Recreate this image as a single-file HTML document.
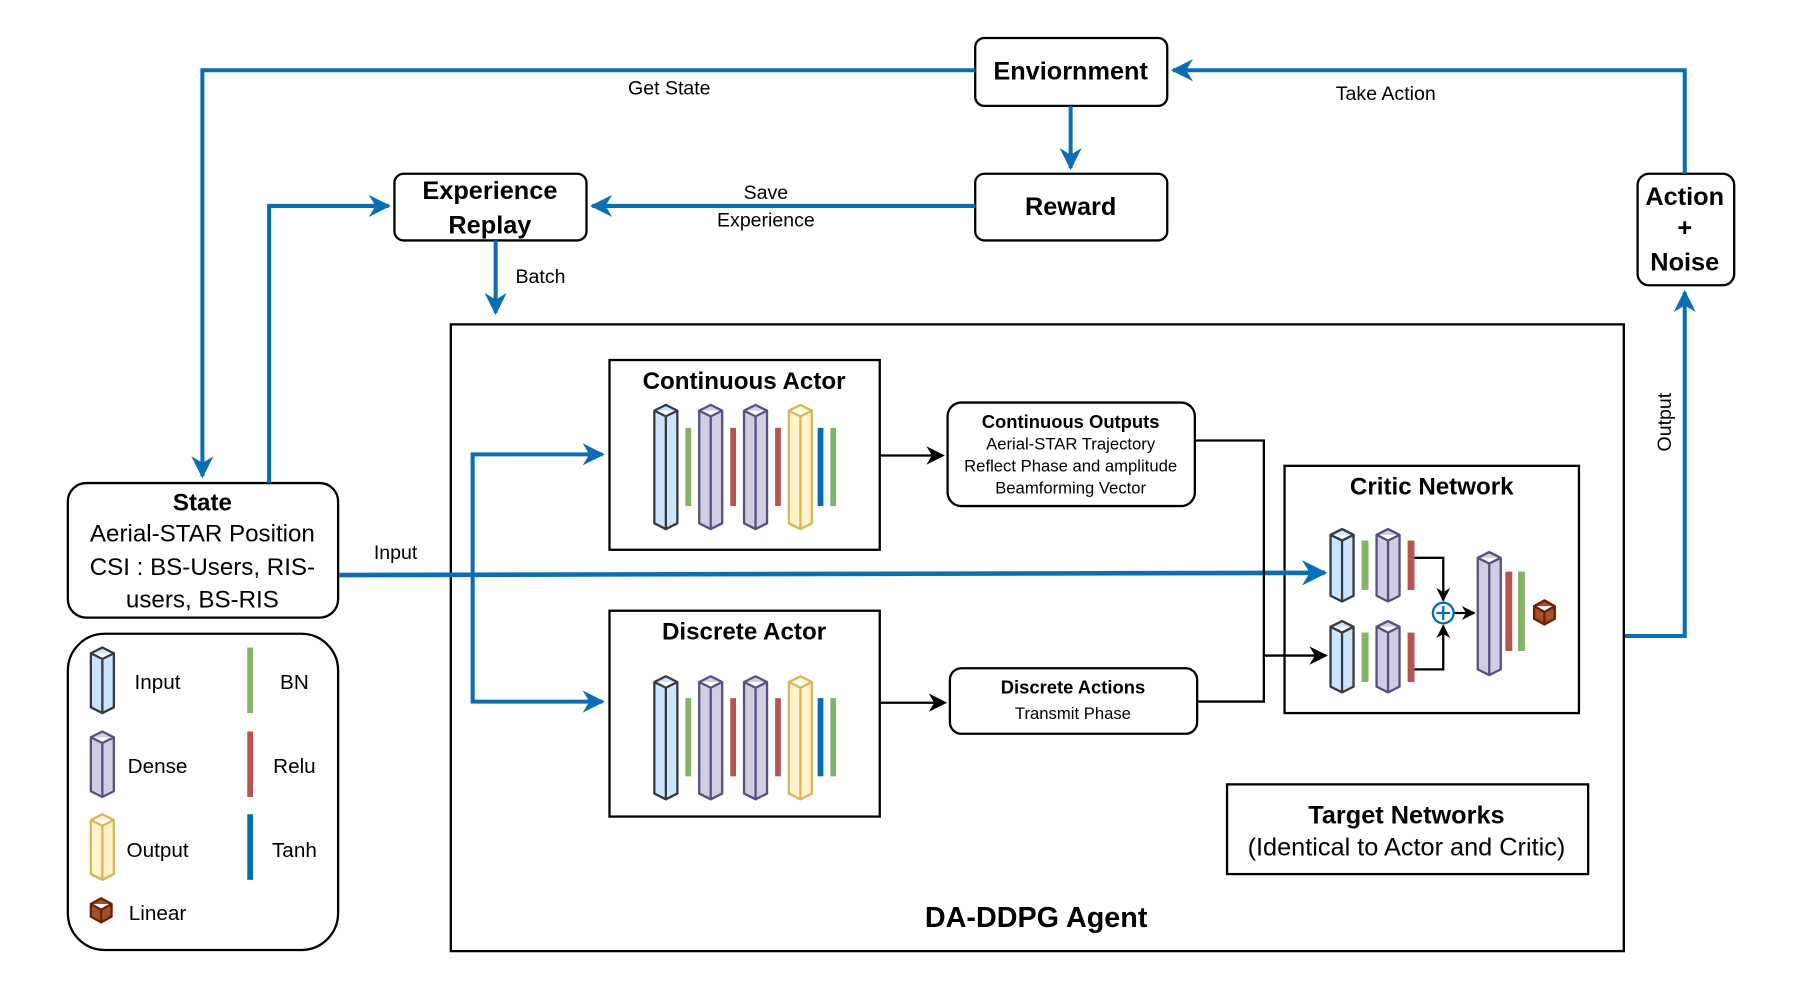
<!DOCTYPE html>
<html><head><meta charset="utf-8"><style>
html,body{margin:0;padding:0;background:#fff;}
svg{display:block;}
text{font-family:"Liberation Sans",Arial,sans-serif;fill:#000;}
.b{font-weight:bold;}
</style></head><body>
<svg width="1794" height="988" viewBox="0 0 1560 859" xmlns="http://www.w3.org/2000/svg">
<defs>
<marker id="ab" viewBox="0 0 10 10" refX="9" refY="5" markerWidth="5.5" markerHeight="5.5" orient="auto-start-reverse" markerUnits="strokeWidth"><path d="M0,0 L10,5 L0,10 L3,5 z" fill="#0a6eb4"/></marker>
<marker id="ak" viewBox="0 0 10 10" refX="9" refY="5" markerWidth="8" markerHeight="8" orient="auto" markerUnits="strokeWidth"><path d="M0,0 L10,5 L0,10 L3,5 z" fill="#000"/></marker>
<marker id="ak2" viewBox="0 0 10 10" refX="9" refY="5" markerWidth="6" markerHeight="6" orient="auto" markerUnits="strokeWidth"><path d="M0,0 L10,5 L0,10 L3,5 z" fill="#000"/></marker>
</defs>

<!-- boxes -->
<g fill="#fff" stroke="#000" stroke-width="2">
<rect x="848" y="33" width="167" height="59" rx="8"/>
<rect x="848" y="151" width="167" height="58" rx="8"/>
<rect x="343" y="151" width="167" height="58" rx="8"/>
<rect x="1424" y="151" width="84" height="97" rx="10"/>
<rect x="59" y="420" width="235" height="117" rx="16"/>
<rect x="59" y="551" width="235" height="275" rx="32"/>
<rect x="392" y="282" width="1020" height="545" fill="none"/>
<rect x="530" y="313" width="235" height="165"/>
<rect x="530" y="531" width="235" height="179"/>
<rect x="824" y="350" width="215" height="90" rx="12"/>
<rect x="826" y="581" width="215" height="57" rx="10"/>
<rect x="1117" y="405" width="256" height="215"/>
<rect x="1067" y="682" width="314" height="78"/>
</g>

<!-- blue connectors -->
<g fill="none" stroke="#0a6eb4" stroke-width="3.5">
<path d="M848,61 H176 V414" marker-end="url(#ab)"/>
<path d="M1465,151 V61 H1020" marker-end="url(#ab)"/>
<path d="M931,92 V146" marker-end="url(#ab)"/>
<path d="M848,179 H515" marker-end="url(#ab)"/>
<path d="M234,420 V179 H338" marker-end="url(#ab)"/>
<path d="M431,209 V272" marker-end="url(#ab)"/>
<path d="M295,500 L1152,498" stroke-width="4" marker-end="url(#ab)"/>
<path d="M524,395 H411 V610 H524" marker-end="url(#ab)" marker-start="url(#ab)"/>
<path d="M1413,553 H1465 V254" marker-end="url(#ab)"/>
</g>

<!-- black connectors -->
<g fill="none" stroke="#000" stroke-width="2">
<path d="M765,396 H820" marker-end="url(#ak)"/>
<path d="M765,611 H822" marker-end="url(#ak)"/>
<path d="M1039,383 H1099 V570 H1153" marker-end="url(#ak)"/>
<path d="M1041,610 H1099 V570"/>
<path d="M1226,485 H1255 V522" marker-end="url(#ak2)"/>
<path d="M1226,582 H1255 V544" marker-end="url(#ak2)"/>
<path d="M1264,533 H1282" marker-end="url(#ak2)"/>
</g>

<!-- prisms -->
<g stroke-width="2" stroke-linejoin="round">
<path fill="#cce5ff" stroke="#36393d" d="M569,357 l10,-5 l10,5 v98 l-10,5 l-10,-5 z m0,0 l10,5 l10,-5 m-10,5 v98"/>
<path fill="#d0cee2" stroke="#56517e" d="M608,357 l10,-5 l10,5 v98 l-10,5 l-10,-5 z m0,0 l10,5 l10,-5 m-10,5 v98"/>
<path fill="#d0cee2" stroke="#56517e" d="M647,357 l10,-5 l10,5 v98 l-10,5 l-10,-5 z m0,0 l10,5 l10,-5 m-10,5 v98"/>
<path fill="#fff2cc" stroke="#d6b656" d="M686,357 l10,-5 l10,5 v98 l-10,5 l-10,-5 z m0,0 l10,5 l10,-5 m-10,5 v98"/>
<path fill="#cce5ff" stroke="#36393d" d="M569,593 l10,-5 l10,5 v97 l-10,5 l-10,-5 z m0,0 l10,5 l10,-5 m-10,5 v97"/>
<path fill="#d0cee2" stroke="#56517e" d="M608,593 l10,-5 l10,5 v97 l-10,5 l-10,-5 z m0,0 l10,5 l10,-5 m-10,5 v97"/>
<path fill="#d0cee2" stroke="#56517e" d="M647,593 l10,-5 l10,5 v97 l-10,5 l-10,-5 z m0,0 l10,5 l10,-5 m-10,5 v97"/>
<path fill="#fff2cc" stroke="#d6b656" d="M686,593 l10,-5 l10,5 v97 l-10,5 l-10,-5 z m0,0 l10,5 l10,-5 m-10,5 v97"/>
<path fill="#cce5ff" stroke="#36393d" d="M1157,465 l10,-5 l10,5 v53 l-10,5 l-10,-5 z m0,0 l10,5 l10,-5 m-10,5 v53"/>
<path fill="#d0cee2" stroke="#56517e" d="M1197,465 l10,-5 l10,5 v53 l-10,5 l-10,-5 z m0,0 l10,5 l10,-5 m-10,5 v53"/>
<path fill="#cce5ff" stroke="#36393d" d="M1157,545 l10,-5 l10,5 v52 l-10,5 l-10,-5 z m0,0 l10,5 l10,-5 m-10,5 v52"/>
<path fill="#d0cee2" stroke="#56517e" d="M1197,545 l10,-5 l10,5 v52 l-10,5 l-10,-5 z m0,0 l10,5 l10,-5 m-10,5 v52"/>
<path fill="#d0cee2" stroke="#56517e" d="M1285,485 l10,-5 l10,5 v97 l-10,5 l-10,-5 z m0,0 l10,5 l10,-5 m-10,5 v97"/>
<path fill="#cce5ff" stroke="#36393d" d="M79,568 l10,-5 l10,5 v47 l-10,5 l-10,-5 z m0,0 l10,5 l10,-5 m-10,5 v47"/>
<path fill="#d0cee2" stroke="#56517e" d="M79,641 l10,-5 l10,5 v47 l-10,5 l-10,-5 z m0,0 l10,5 l10,-5 m-10,5 v47"/>
<path fill="#fff2cc" stroke="#d6b656" d="M79,713 l10,-5 l10,5 v47 l-10,5 l-10,-5 z m0,0 l10,5 l10,-5 m-10,5 v47"/>
<path fill="#a0522d" stroke="#6d1f00" d="M1334,527 l9,-5 l9,5 v11 l-9,5 l-9,-5 z m0,0 l9,5 l9,-5 m-9,5 v11"/>
<path fill="#a0522d" stroke="#6d1f00" d="M79,786 l9,-5 l9,5 v11 l-9,5 l-9,-5 z m0,0 l9,5 l9,-5 m-9,5 v11"/>
</g>

<!-- bars -->
<g>
<rect x="596" y="372" width="5" height="68" fill="#82b366"/>
<rect x="635" y="372" width="5" height="68" fill="#b85450"/>
<rect x="674" y="372" width="5" height="68" fill="#b85450"/>
<rect x="711" y="372" width="5" height="68" fill="#006eaf"/>
<rect x="722" y="372" width="5" height="68" fill="#82b366"/>
<rect x="596" y="607" width="5" height="68" fill="#82b366"/>
<rect x="635" y="607" width="5" height="68" fill="#b85450"/>
<rect x="674" y="607" width="5" height="68" fill="#b85450"/>
<rect x="711" y="607" width="5" height="68" fill="#006eaf"/>
<rect x="722" y="607" width="5" height="68" fill="#82b366"/>
<rect x="1184" y="470" width="6" height="43" fill="#82b366"/>
<rect x="1224" y="470" width="6" height="43" fill="#b85450"/>
<rect x="1184" y="550" width="6" height="43" fill="#82b366"/>
<rect x="1224" y="550" width="6" height="43" fill="#b85450"/>
<rect x="1309" y="497" width="6" height="69" fill="#b85450"/>
<rect x="1320" y="497" width="6" height="69" fill="#82b366"/>
<rect x="215" y="563" width="5" height="57" fill="#82b366"/>
<rect x="215" y="636" width="5" height="57" fill="#b85450"/>
<rect x="215" y="708" width="5" height="57" fill="#006eaf"/>
</g>
<circle cx="1255" cy="533" r="9" fill="#fff" stroke="#006eaf" stroke-width="2"/>
<path d="M1249,533 H1261 M1255,527 V539" stroke="#006eaf" stroke-width="2"/>

<!-- text -->
<g text-anchor="middle">
<text x="931" y="69" class="b" font-size="22">Enviornment</text>
<text x="931" y="187" class="b" font-size="22">Reward</text>
<text x="426" y="173" class="b" font-size="22">Experience</text>
<text x="426" y="203" class="b" font-size="22">Replay</text>
<text x="1465" y="178" class="b" font-size="22">Action</text>
<text x="1465" y="205" class="b" font-size="22">+</text>
<text x="1465" y="235" class="b" font-size="22">Noise</text>
<text x="582" y="82" font-size="17">Get State</text>
<text x="1205" y="87" font-size="17">Take Action</text>
<text x="666" y="173" font-size="17">Save</text>
<text x="666" y="197" font-size="17">Experience</text>
<text x="470" y="246" font-size="17">Batch</text>
<text x="344" y="486" font-size="17">Input</text>
<text x="1453" y="367" font-size="17" transform="rotate(-90 1453 367)">Output</text>
<text x="176" y="444" class="b" font-size="21">State</text>
<text x="176" y="471" font-size="21">Aerial-STAR Position</text>
<text x="176" y="500" font-size="21">CSI : BS-Users, RIS-</text>
<text x="176" y="528" font-size="21">users, BS-RIS</text>
<text x="647" y="338" class="b" font-size="21">Continuous Actor</text>
<text x="647" y="556" class="b" font-size="21">Discrete Actor</text>
<text x="931" y="372" class="b" font-size="16">Continuous Outputs</text>
<text x="931" y="391" font-size="14.5">Aerial-STAR Trajectory</text>
<text x="931" y="410" font-size="14.5">Reflect Phase and amplitude</text>
<text x="931" y="429" font-size="14.5">Beamforming Vector</text>
<text x="933" y="603" class="b" font-size="16">Discrete Actions</text>
<text x="933" y="625" font-size="14.5">Transmit Phase</text>
<text x="1245" y="430" class="b" font-size="21">Critic Network</text>
<text x="1223" y="716" class="b" font-size="22">Target Networks</text>
<text x="1223" y="744" font-size="22">(Identical to Actor and Critic)</text>
<text x="901" y="806" class="b" font-size="25">DA-DDPG Agent</text>
<text x="137" y="599" font-size="18">Input</text>
<text x="256" y="599" font-size="18">BN</text>
<text x="137" y="672" font-size="18">Dense</text>
<text x="256" y="672" font-size="18">Relu</text>
<text x="137" y="745" font-size="18">Output</text>
<text x="256" y="745" font-size="18">Tanh</text>
<text x="137" y="800" font-size="18">Linear</text>
</g>
</svg>
</body></html>
